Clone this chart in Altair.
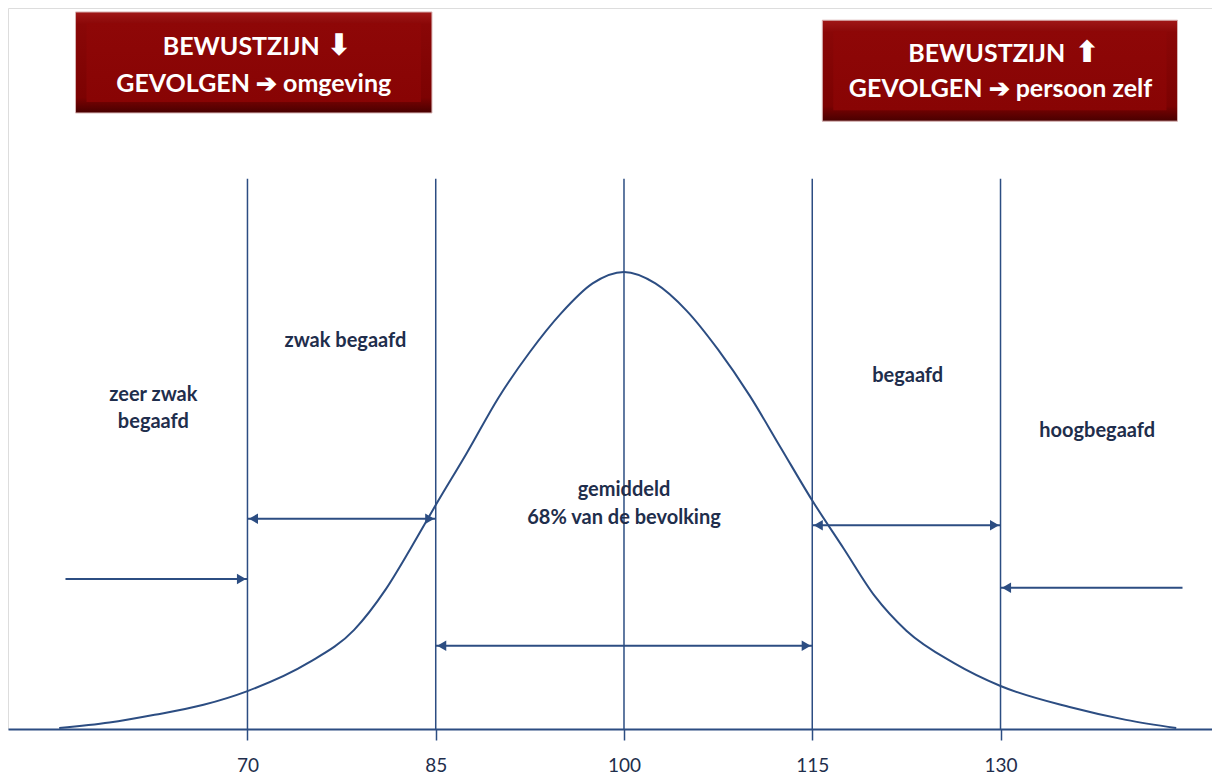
import altair as alt
import pandas as pd

# ---- data ----
curve_x = [55.0, 59.0, 62.6, 66.5, 70.0, 74.8, 78.5, 81.0, 83.0, 85.0, 87.5, 90.0, 92.5,
           95.0, 97.5, 100.0, 102.5, 105.0, 107.5, 110.0, 112.5, 115.0, 117.5, 120.0,
           122.5, 126.3, 130.0, 135.5, 140.0, 144.0]
curve_y = [0.2, 1.4, 3.1, 5.3, 8.3, 14.4, 21.7, 30.5, 39.5, 49.0, 60.5, 72.5, 82.5,
           91.0, 97.5, 100.0, 97.5, 91.5, 83.0, 73.0, 61.5, 50.0, 39.5, 29.0,
           21.5, 14.4, 9.4, 4.8, 2.0, 0.2]

ticks = [70, 85, 100, 115, 130]
line_top = 120.4

label_text = ["zeer zwak", "begaafd", "zwak begaafd", "gemiddeld", "68% van de bevolking",
              "begaafd", "hoogbegaafd"]
label_x = [62.5, 62.5, 77.8, 100.0, 100.0, 122.6, 137.7]
label_y = [73.1, 67.2, 84.9, 52.3, 46.2, 77.2, 65.2]

# arrows: start, end, height
arrow_x1 = [55.5, 70.0, 85.0, 115.0, 144.5]
arrow_x2 = [70.0, 85.0, 115.0, 130.0, 130.0]
arrow_y = [32.8, 46.0, 18.2, 44.6, 30.9]
head_right_x = [70.0, 85.0, 115.0, 130.0]
head_right_y = [32.8, 46.0, 18.2, 44.6]
head_left_x = [70.0, 85.0, 115.0, 130.0]
head_left_y = [46.0, 18.2, 44.6, 30.9]

box_x1 = [56.3, 115.8]
box_x2 = [84.7, 144.1]
box_y1 = [134.8, 133.0]
box_y2 = [156.9, 155.1]
box_lines = ["BEWUSTZIJN", "GEVOLGEN \u2794 omgeving",
             "BEWUSTZIJN", "GEVOLGEN \u2794 persoon zelf"]
box_line_x = [69.5, 70.5, 128.9, 130.0]
box_line_y = [149.2, 141.1, 147.7, 140.0]
box_arrow = ["\u2B07", "\u2B06"]
box_arrow_x = [77.3, 136.9]
box_arrow_y = [149.4, 147.9]

XMIN, XMAX = 50.92, 146.85
YMAX = 157.77
NAVY = "#2C4D82"
TEXT = "#1F2E4C"
FONT = "Lato"

xs = alt.Scale(domain=[XMIN, XMAX], nice=False, zero=False)
ys = alt.Scale(domain=[0, YMAX], nice=False, zero=False)

curve = pd.DataFrame({"x": curve_x, "y": curve_y})
vlines = pd.DataFrame({"x": ticks, "y": [0] * len(ticks), "y2": [line_top] * len(ticks)})
labels = pd.DataFrame({"t": label_text, "x": label_x, "y": label_y})
arrows = pd.DataFrame({"x": arrow_x1, "x2": arrow_x2, "y": arrow_y})
heads_r = pd.DataFrame({"x": head_right_x, "y": head_right_y})
heads_l = pd.DataFrame({"x": head_left_x, "y": head_left_y})
boxes = pd.DataFrame({"x": box_x1, "x2": box_x2, "y": box_y1, "y2": box_y2})
btext = pd.DataFrame({"t": box_lines, "x": box_line_x, "y": box_line_y})
barrow = pd.DataFrame({"t": box_arrow, "x": box_arrow_x, "y": box_arrow_y})

X = alt.X("x:Q", scale=xs, axis=alt.Axis(values=ticks, title=None, grid=False,
          domainColor=NAVY, domainWidth=2, tickColor=NAVY, tickWidth=1.5, tickSize=11,
          labelColor=TEXT, labelFont=FONT, labelFontSize=19, labelPadding=16))
Y = alt.Y("y:Q", scale=ys, axis=None)
xq = alt.X("x:Q", scale=xs)
yq = alt.Y("y:Q", scale=ys)

base_line = alt.Chart(vlines).mark_rule(color=NAVY, strokeWidth=1.5).encode(
    x=X, y=Y, y2="y2:Q")

curve_layer = alt.Chart(curve).mark_line(color=NAVY, strokeWidth=2,
                                         interpolate="monotone").encode(x=xq, y=yq)

arrow_lines = alt.Chart(arrows).mark_rule(color=NAVY, strokeWidth=2).encode(
    x=xq, x2="x2:Q", y=yq)

hr = alt.Chart(heads_r).mark_point(shape="triangle-right", filled=True, color=NAVY,
                                   size=110, opacity=1, xOffset=-6).encode(x=xq, y=yq)
hl = alt.Chart(heads_l).mark_point(shape="triangle-left", filled=True, color=NAVY,
                                   size=110, opacity=1, xOffset=6).encode(x=xq, y=yq)

text_layer = alt.Chart(labels).mark_text(font=FONT, fontSize=20, fontWeight="bold",
                                         color=TEXT, align="center",
                                         baseline="middle").encode(x=xq, y=yq, text="t:N")

box_outer = alt.Chart(boxes).mark_rect(
    color=alt.Gradient(gradient="linear", x1=0, y1=0, x2=0, y2=1,
                       stops=[alt.GradientStop(color="#A01818", offset=0),
                              alt.GradientStop(color="#8A0707", offset=0.12),
                              alt.GradientStop(color="#7C0202", offset=0.85),
                              alt.GradientStop(color="#480000", offset=1)]),
    stroke="#D8B4B4", strokeWidth=1).encode(x=xq, x2="x2:Q", y=yq, y2="y2:Q")
box_inner = alt.Chart(boxes).mark_rect(
    color=alt.Gradient(gradient="linear", x1=0, y1=0, x2=0, y2=1,
                       stops=[alt.GradientStop(color="#8E0707", offset=0),
                              alt.GradientStop(color="#880404", offset=1)]),
    xOffset=11, x2Offset=-11, yOffset=-11, y2Offset=11).encode(
    x=xq, x2="x2:Q", y=yq, y2="y2:Q")
box_text_layer = alt.Chart(btext).mark_text(font=FONT, fontSize=25, fontWeight="bold",
                                            color="white", align="center",
                                            baseline="middle").encode(x=xq, y=yq, text="t:N")
box_arrow_layer = alt.Chart(barrow).mark_text(font="DejaVu Sans", fontSize=30,
                                              fontWeight="bold", color="white",
                                              align="center", baseline="middle").encode(
    x=xq, y=yq, text="t:N")

chart = alt.layer(base_line, curve_layer, arrow_lines, hr, hl, text_layer,
                  box_outer, box_inner, box_text_layer, box_arrow_layer).properties(
    width=1204, height=721, padding=0
).configure_view(stroke=None).configure(background="white")

chart.save("out.html", embed_options={"renderer": "svg", "actions": False})
